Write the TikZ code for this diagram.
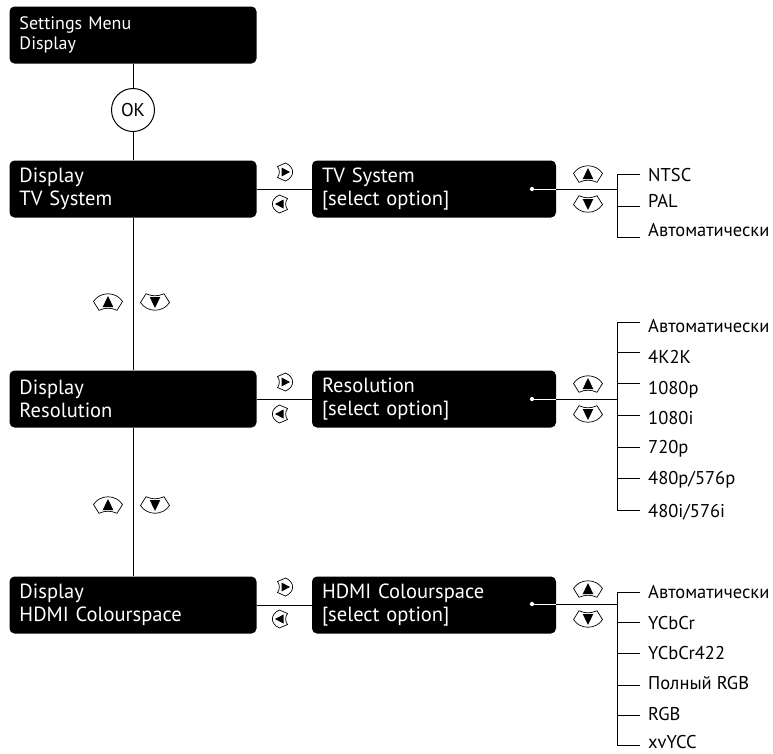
\documentclass[tikz,border=0pt]{standalone}
\usepackage{fontspec}
\setmainfont{PT Sans}
\newcommand{\itemfont}{\fontsize{18.5}{22}\selectfont}
\newcommand{\boxfont}{\fontsize{20.5}{23}\selectfont}
\newcommand{\topfont}{\fontsize{18}{20}\selectfont}
\tikzset{
  menubox/.style={rectangle,rounded corners=5pt,fill=black,text=white,minimum height=57pt,inner xsep=10pt,inner ysep=0pt,align=left,font=\boxfont},
  wire/.style={line width=1pt,draw=black},
  inwire/.style={line width=1pt,draw=white},
  okbtn/.style={circle,draw=black,line width=1pt,minimum size=43pt,inner sep=0pt},
  hookpt/.style={circle,fill=white,inner sep=1.5pt},
  optitem/.style={anchor=base west,inner sep=0pt},
  upkey/.pic={
    \draw[line width=0.7pt,fill=white] (-14.5,-0.5) .. controls (-8,-10.8) and (8,-10.8) .. (14.5,-0.5) -- (9,8.3) .. controls (3,5.5) and (-3,5.5) .. (-9,8.3) -- cycle;
    \fill (0,-6) -- (5.3,5) -- (-5.3,5) -- cycle;
  },
  rightkey/.pic={
    \draw[line width=0.7pt,fill=white] (0.5,-9) .. controls (10,-5) and (10,5) .. (0.5,9) -- (-7.5,5.5) .. controls (-5,2) and (-5,-2) .. (-7.5,-5.5) -- cycle;
    \fill (5,0) -- (-3.5,-4.5) -- (-3.5,4.5) -- cycle;
  }
}

\begin{document}
\begin{tikzpicture}[x=1pt,y=-1pt,every node/.style={font=\itemfont}]
  \useasboundingbox (0,0) rectangle (773,753);
  \node[menubox,text width=227pt,font=\topfont] (menu) at (133,35) {Settings Menu\\Display};
  \node[okbtn] (ok) at (133,110) {OK};
  \node[menubox,text width=227pt] (tvsys) at (133,189) {Display\\TV System};
  \node[menubox,text width=227pt] (res) at (133,399) {Display\\Resolution};
  \node[menubox,text width=227pt] (hdmi) at (133,605) {Display\\HDMI Colourspace};
  \node[menubox,text width=224pt] (tvsel) at (434,189) {TV System\\{}[select option]};
  \node[menubox,text width=224pt] (ressel) at (434,399) {Resolution\\{}[select option]};
  \node[menubox,text width=224pt] (hdmisel) at (434,605) {HDMI Colourspace\\{}[select option]};
  \draw[wire] (menu) -- (ok) -- (tvsys) -- (res) -- (hdmi);
  \draw[wire] (tvsys) -- (tvsel);
  \draw[wire] (res) -- (ressel);
  \draw[wire] (hdmi) -- (hdmisel);
  % pick points inside the option boxes
  \node[hookpt] (tvdot) at (532,189) {};
  \node[hookpt] (resdot) at (532,399) {};
  \node[hookpt] (hdmidot) at (532,604) {};
  \coordinate (tvfork) at (617,189);
  \coordinate (resfork) at (617,399);
  \coordinate (hdmifork) at (617,604);
  \draw[inwire] (tvdot) -- (tvsel.east |- tvdot);
  \draw[wire] (tvsel.east |- tvdot) -- (tvfork);
  \draw[inwire] (resdot) -- (ressel.east |- resdot);
  \draw[wire] (ressel.east |- resdot) -- (resfork);
  \draw[inwire] (hdmidot) -- (hdmisel.east |- hdmidot);
  \draw[wire] (hdmisel.east |- hdmidot) -- (hdmifork);
  % option lists
  \draw[wire,line cap=rect] (617,174) -- (617,237);
  \foreach \n/\ty/\by/\lab in {1/174/181/NTSC,2/206/207/PAL,3/237/236/Автоматически}{
    \node[optitem] (tv\n) at (648,\by) {\lab};
    \draw[wire] (617,\ty) -- (640,\ty);
  }
  \draw[wire,line cap=rect] (617,322) -- (617,510);
  \foreach \n/\ty/\by/\lab in {1/322/332/Автоматически,2/352/363/4K2K,3/383/394/1080p,4/415/424/1080i,5/447/453/720p,6/478/484/480p\slash 576p,7/510/517/480i\slash 576i}{
    \node[optitem] (res\n) at (648,\by) {\lab};
    \draw[wire] (617,\ty) -- (640,\ty);
  }
  \draw[wire,line cap=rect] (617,592) -- (617,745);
  \foreach \n/\ty/\by/\lab in {1/592/598/Автоматически,2/622/629/YCbCr,3/653/659/YCbCr422,4/685/689/Полный RGB,5/715/720/RGB,6/745/748/xvYCC}{
    \node[optitem] (hdmi\n) at (648,\by) {\lab};
    \draw[wire] (617,\ty) -- (640,\ty);
  }
  % navigation keys
  \foreach \y in {189,399,604}{
    \pic at (285,\y-17) {rightkey};
    \pic[rotate=180] at (280,\y+15) {rightkey};
    \pic at (588,\y-15) {upkey};
    \pic[rotate=180] at (588,\y+15) {upkey};
  }
  \foreach \y in {302,505}{
    \pic at (108,\y) {upkey};
    \pic[rotate=180] at (155,\y) {upkey};
  }
\end{tikzpicture}
\end{document}
